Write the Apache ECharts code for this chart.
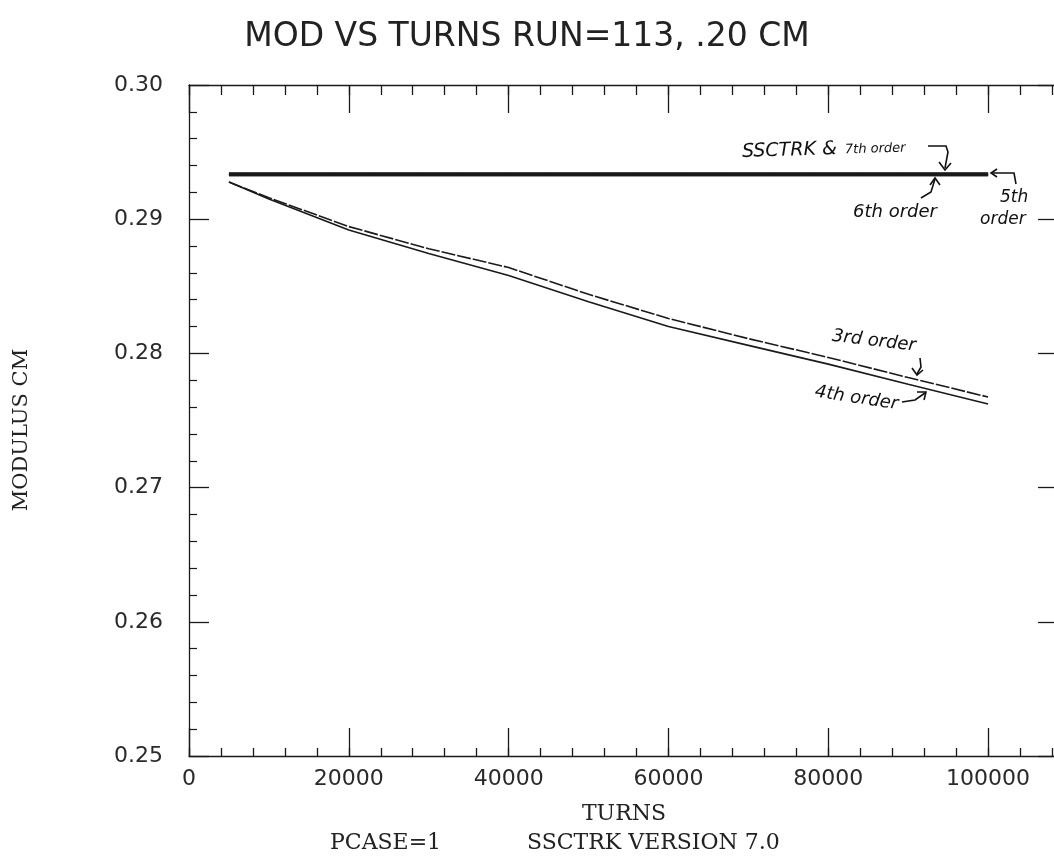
<!DOCTYPE html>
<html>
<head>
<meta charset="utf-8">
<script src="https://cdn.jsdelivr.net/npm/echarts@6/dist/echarts.min.js"></script>
<style>html,body{margin:0;padding:0;background:#fff;}#c{width:1054px;height:864px;}</style>
</head>
<body>
<div id="c"></div>
<script>
// ---- data ----
const turns = [5000, 10000, 20000, 30000, 40000, 50000, 60000, 70000, 80000, 90000, 100000];
const ssctrk   = [0.29335, 0.29335, 0.29335, 0.29335, 0.29335, 0.29335, 0.29335, 0.29335, 0.29335, 0.29335, 0.29335];
const order7   = [0.29335, 0.29335, 0.29335, 0.29335, 0.29335, 0.29335, 0.29335, 0.29335, 0.29335, 0.29335, 0.29335];
const order6   = [0.29332, 0.29332, 0.29332, 0.29332, 0.29332, 0.29332, 0.29332, 0.29332, 0.29332, 0.29332, 0.29332];
const order5   = [0.29333, 0.29333, 0.29333, 0.29333, 0.29333, 0.29333, 0.29333, 0.29333, 0.29333, 0.29333, 0.29333];
const order3   = [0.29277, 0.29160, 0.28945, 0.28780, 0.28640, 0.28440, 0.28260, 0.28110, 0.27970, 0.27820, 0.27675];
const order4   = [0.29277, 0.29150, 0.28920, 0.28745, 0.28580, 0.28385, 0.28200, 0.28060, 0.27920, 0.27770, 0.27623];
const xTickLabels = ['0', '20000', '40000', '60000', '80000', '100000'];
const yTickLabels = ['0.25', '0.26', '0.27', '0.28', '0.29', '0.30'];

const pairs = arr => turns.map((t, i) => [t, arr[i]]);
const chart = echarts.init(document.getElementById('c'), null, {renderer: 'canvas'});
const INK = '#1a1a1a';
const tickFont = {fontFamily: 'DejaVu Sans', fontSize: 22, color: '#2a2a2a'};

function xAxisDef(pos, interval, len, labels) {
  return {
    type: 'value', position: pos, min: 0, max: 110000, interval: interval,
    axisLine: {show: interval === 20000, onZero: false, lineStyle: {color: INK, width: 1.3}},
    axisTick: {show: true, inside: true, length: len, lineStyle: {color: INK, width: 1.3}},
    splitLine: {show: false},
    axisLabel: labels ? Object.assign({show: true, margin: 12, showMaxLabel: false,
      formatter: v => (xTickLabels.indexOf(String(v)) >= 0 ? String(v) : '')}, tickFont) : {show: false}
  };
}
function yAxisDef(pos, labels, len, mlen) {
  return {
    type: 'value', position: pos, min: 0.25, max: 0.30, interval: 0.01,
    axisLine: {show: true, onZero: false, lineStyle: {color: INK, width: 1.3}},
    axisTick: {show: true, inside: true, length: len, lineStyle: {color: INK, width: 1.3}},
    minorTick: {show: true, splitNumber: 5, length: mlen, lineStyle: {color: INK, width: 1.2}},
    splitLine: {show: false},
    axisLabel: labels ? Object.assign({show: true, margin: 26,
      formatter: v => yTickLabels[Math.round((v - 0.25) / 0.01)]}, tickFont) : {show: false}
  };
}

function lineSeries(name, arr, width, extra) {
  return Object.assign({
    name: name, type: 'line', data: pairs(arr), showSymbol: false, symbol: 'none',
    lineStyle: {color: INK, width: width}, silent: true, animation: false, z: 3
  }, extra || {});
}

function txt(x, y, s, size, rot) {
  return {type: 'text', x: x, y: y, rotation: rot || 0,
    style: {text: s, font: 'italic ' + size + 'px "DejaVu Sans"', fill: '#111', textVerticalAlign: 'middle'}};
}
function pl(points) {
  return {type: 'polyline', shape: {points: points}, style: {stroke: '#111', fill: null, lineWidth: 1.6}};
}
const serif = size => size + 'px "DejaVu Serif"';

chart.setOption({
  backgroundColor: '#ffffff',
  animation: false,
  title: {
    text: 'MOD VS TURNS RUN=113, .20 CM', left: 'center', top: 16,
    textStyle: {fontFamily: 'DejaVu Sans', fontSize: 33, fontWeight: 'normal', color: '#222'}
  },
  grid: {left: 189, top: 85, width: 879, height: 671, containLabel: false, outerBoundsMode: 'none'},
  xAxis: [
    xAxisDef('bottom', 20000, 28, true),
    xAxisDef('top', 20000, 28, false),
    xAxisDef('bottom', 4000, 8, false),
    xAxisDef('top', 4000, 10, false)
  ],
  yAxis: [yAxisDef('left', true, 20, 8), yAxisDef('right', false, 30, 10)],
  series: [
    lineSeries('SSCTRK', ssctrk, 4),
    lineSeries('7th order', order7, 3),
    lineSeries('6th order', order6, 3),
    lineSeries('5th order', order5, 2, {lineStyle: {color: INK, width: 2, type: [8, 3]}}),
    lineSeries('3rd order', order3, 1.6, {lineStyle: {color: INK, width: 1.6, type: [14, 2]}}),
    lineSeries('4th order', order4, 1.6)
  ],
  graphic: [
    {type: 'text', x: 624, y: 814, style: {text: 'TURNS', font: serif(22), fill: '#222', textAlign: 'center', textVerticalAlign: 'middle'}},
    {type: 'text', x: 330, y: 843, style: {text: 'PCASE=1', font: serif(22), fill: '#222', textVerticalAlign: 'middle'}},
    {type: 'text', x: 527, y: 843, style: {text: 'SSCTRK VERSION 7.0', font: serif(22), fill: '#222', textVerticalAlign: 'middle'}},
    {type: 'text', x: 22, y: 430, rotation: Math.PI / 2,
      style: {text: 'MODULUS CM', font: serif(21), fill: '#222', textAlign: 'center', textVerticalAlign: 'middle'}},
    txt(742, 152, 'SSCTRK & ', 19, 0.03),
    txt(845, 150, '7th order', 13, 0.03),
    pl([[928, 146], [946, 146], [948, 152], [945, 168]]),
    pl([[939, 162], [945, 170], [951, 163]]),
    txt(853, 212, '6th order', 18),
    pl([[921, 198], [931, 192], [935, 179]]),
    pl([[930, 185], [935, 178], [940, 185]]),
    pl([[1016, 184], [1014, 173], [992, 173]]),
    pl([[997, 169], [991, 173], [997, 177]]),
    txt(1000, 198, '5th', 17),
    txt(980, 220, 'order', 17),
    txt(832, 336, '3rd order', 18, -0.12),
    pl([[920, 358], [921, 367], [917, 374]]),
    pl([[912, 368], [917, 375], [923, 370]]),
    txt(815, 392, '4th order', 18, -0.15),
    pl([[902, 402], [915, 400], [925, 393]]),
    pl([[917, 392], [926, 392], [924, 400]])
  ]
});
</script>
</body>
</html>
